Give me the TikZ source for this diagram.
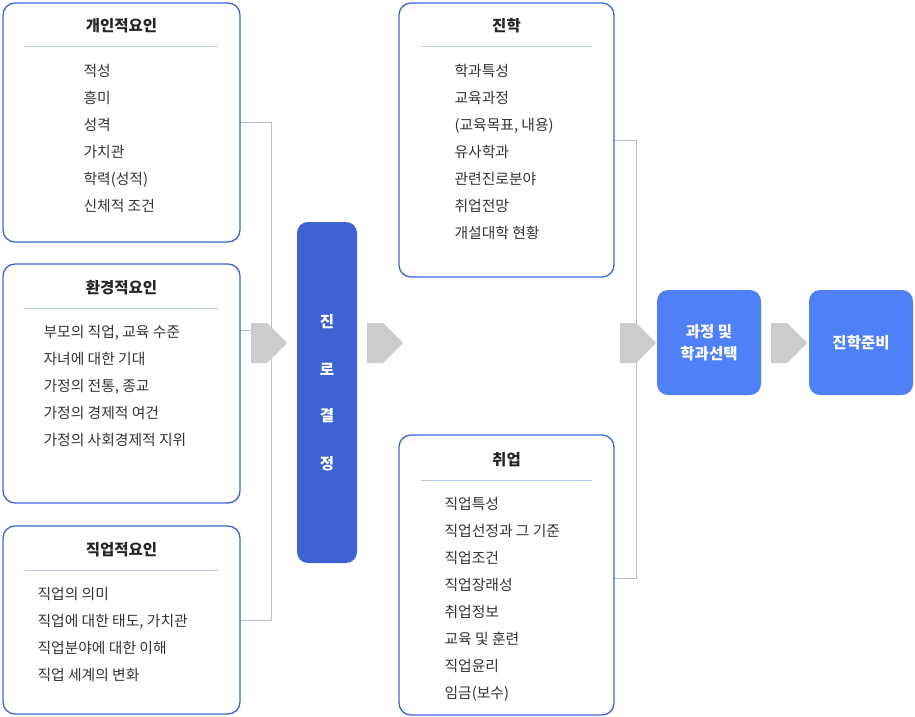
\documentclass[tikz,border=0pt]{standalone}
\usepackage{fontspec}
\setmainfont{Noto Sans CJK KR}
\usetikzlibrary{shapes.arrows}
\definecolor{bb}{HTML}{3F63D6}
\definecolor{dk}{HTML}{3D63D2}
\definecolor{lb}{HTML}{4F80F8}
\definecolor{sep}{HTML}{B8C8EC}
\begin{document}
\begin{tikzpicture}[x=1pt,y=-1pt,
 box/.style={draw=bb,line width=1.3pt,rounded corners=12pt},
 ttl/.style={font=\fontsize{15.5}{18}\selectfont\bfseries,text=black!85},
 itm/.style={font=\fontsize{14.8}{27}\selectfont,text=black!80,anchor=north west,align=left},
 brk/.style={draw=black!25,line width=0.8pt},
 garr/.style={single arrow,fill=black!20,draw=none,minimum height=36pt,minimum width=40pt,single arrow head extend=0pt,shape border uses incircle=false,inner sep=0pt,single arrow tip angle=90, single arrow head indent=0pt},
 solid/.style={rounded corners=11pt,text=white,font=\fontsize{15.5}{22}\selectfont\bfseries,align=center}]
\useasboundingbox (0,0) rectangle (915,717);
% brackets
\draw[brk] (240,122) -- (271,122) -- (271,620) -- (240,620);
\draw[brk] (240,330) -- (271,330);
\draw[brk] (614,140) -- (636,140) -- (636,578) -- (614,578);
% left boxes
\draw[box] (3,3) rectangle (240,242);
\node[ttl] (t1) at (121.5,26) {개인적요인};
\draw[sep] (25,46) -- (218,46);
\node[itm] (i1) at (80,61) {적성\\흥미\\성격\\가치관\\학력(성적)\\신체적 조건};
\draw[box] (3,264) rectangle (240,503);
\node[ttl] (t2) at (121.5,288) {환경적요인};
\draw[sep] (25,308) -- (218,308);
\node[itm] (i2) at (40,322) {부모의 직업, 교육 수준\\자녀에 대한 기대\\가정의 전통, 종교\\가정의 경제적 여건\\가정의 사회경제적 지위};
\draw[box] (3,526) rectangle (240,714);
\node[ttl] (t3) at (121.5,550) {직업적요인};
\draw[sep] (25,570) -- (218,570);
\node[itm] (i3) at (34,584) {직업의 의미\\직업에 대한 태도, 가치관\\직업분야에 대한 이해\\직업 세계의 변화};
% center boxes
\draw[box] (399,3) rectangle (614,277);
\node[ttl] (t4) at (506.5,26) {진학};
\draw[sep] (421,46) -- (592,46);
\node[itm] (i4) at (451,61) {학과특성\\교육과정\\(교육목표, 내용)\\유사학과\\관련진로분야\\취업전망\\개설대학 현황};
\draw[box] (399,435) rectangle (614,715);
\node[ttl] (t5) at (506.5,460) {취업};
\draw[sep] (421,480) -- (592,480);
\node[itm] (i5) at (441,494) {직업특성\\직업선정과 그 기준\\직업조건\\직업장래성\\취업정보\\교육 및 훈련\\직업윤리\\임금(보수)};
% solid boxes
\fill[dk,rounded corners=11pt] (297,222) rectangle (357,563);
\foreach \c/\y [count=\i] in {진/322,로/369,결/416,정/464}
  \node[text=white,font=\fontsize{15.5}{18}\selectfont\bfseries] (d\i) at (327,\y) {\c};
\node[solid,fill=lb,minimum width=104pt,minimum height=105pt] (s1) at (709,342.5) {과정 및\\학과선택};
\node[solid,fill=lb,minimum width=104pt,minimum height=105pt] (s2) at (861,342.5) {진학준비};
% arrows
\foreach \x [count=\i] in {259,375,628,779}
  \node[garr] (a\i) at (\x,343) {};
\end{tikzpicture}
\end{document}
